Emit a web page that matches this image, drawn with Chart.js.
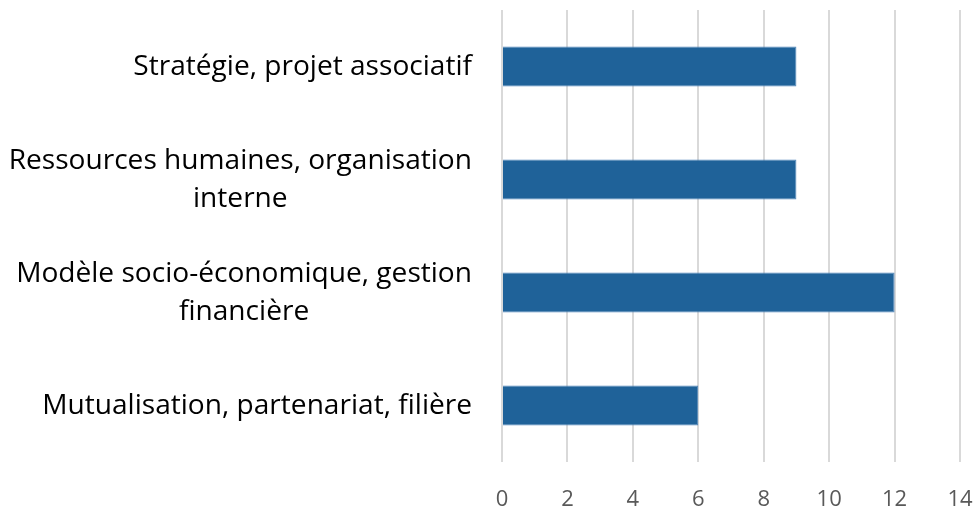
<!DOCTYPE html>
<html><head><meta charset="utf-8">
<script src="https://cdn.jsdelivr.net/npm/chart.js@4/dist/chart.umd.min.js"></script>
<style>html,body{margin:0;padding:0;background:#fff}#wrap{width:977px;height:516px}</style>
</head><body><div id="wrap"><canvas id="c" width="977" height="516"></canvas></div>
<script>
const categories = [
  ["Stratégie, projet associatif"],
  ["Ressources humaines, organisation", "interne"],
  ["Modèle socio-économique, gestion", "financière"],
  ["Mutualisation, partenariat, filière"]
];
const values = [9, 9, 12, 6];
const xTicks = [0, 2, 4, 6, 8, 10, 12, 14];

const LABEL_FONT = 'Open Sans';
let labelSize = 26;
(function fit() {
  const m = document.createElement('canvas').getContext('2d');
  m.font = '100px "' + LABEL_FONT + '"';
  const w = Math.max(...categories.flat().map(l => m.measureText(l).width));
  labelSize = Math.round(100 * 464 / w * 10) / 10;
})();

const labelPlugin = {
  id: 'catLabels',
  afterDraw(chart) {
    const ctx = chart.ctx;
    const ys = chart.scales.y;
    ctx.save();
    ctx.font = labelSize + 'px "' + LABEL_FONT + '"';
    ctx.fillStyle = '#000000';
    ctx.textBaseline = 'middle';
    ctx.textAlign = 'center';
    const right = 472, lh = 38;
    ys.ticks.forEach((t, i) => {
      const lines = categories[i];
      const y0 = ys.getPixelForTick(i);
      const w = Math.max(...lines.map(l => ctx.measureText(l).width));
      const cx = right - w / 2;
      lines.forEach((l, j) => {
        ctx.fillText(l, cx, y0 + (j - (lines.length - 1) / 2) * lh);
      });
    });
    ctx.restore();
  }
};

new Chart(document.getElementById('c'), {
  type: 'bar',
  data: {
    labels: categories,
    datasets: [{
      data: values,
      backgroundColor: '#1F6299',
      borderColor: '#4F84BA',
      borderWidth: 1,
      barPercentage: 0.354,
      categoryPercentage: 1
    }]
  },
  options: {
    indexAxis: 'y',
    responsive: false,
    animation: false,
    layout: { padding: { top: 10, right: 17, bottom: 0, left: 0 } },
    plugins: { legend: { display: false }, tooltip: { enabled: false } },
    scales: {
      x: {
        min: 0, max: 14,
        afterBuildTicks(s) { s.ticks = xTicks.map(v => ({ value: v })); },
        grid: { color: '#D9D9D9', lineWidth: 2, drawTicks: false },
        border: { display: false },
        ticks: { color: '#595959', font: { family: LABEL_FONT, size: 22 }, padding: 25, maxRotation: 0 },
        afterFit(s) { s.height = 54; s.paddingLeft = 0; s.paddingRight = 0; }
      },
      y: {
        grid: { display: false },
        border: { display: false },
        ticks: { display: false },
        afterFit(s) { s.width = 502; }
      }
    }
  },
  plugins: [labelPlugin]
});
</script></body></html>
